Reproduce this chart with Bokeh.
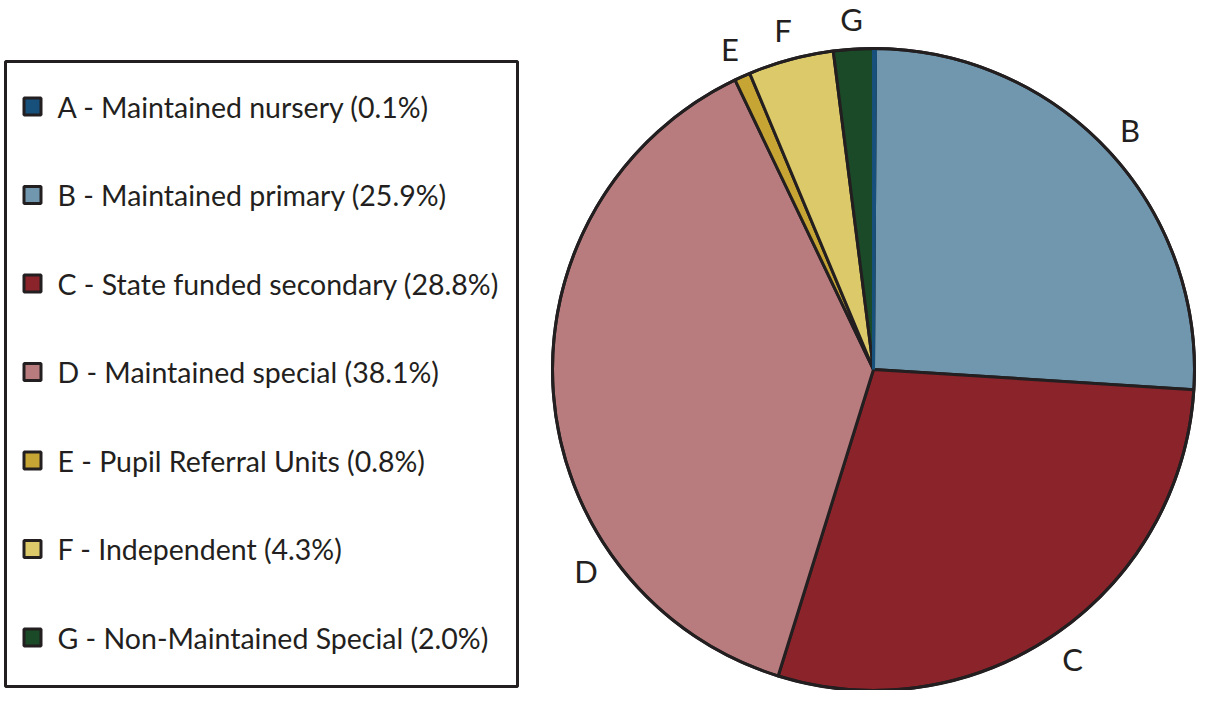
import math
from bokeh.plotting import figure
from bokeh.models import Range1d, ColumnDataSource
from bokeh.core.properties import value
from bokeh.embed import file_html
from bokeh.resources import INLINE

letters = ["A", "B", "C", "D", "E", "F", "G"]
names = ["Maintained nursery", "Maintained primary", "State funded secondary",
         "Maintained special", "Pupil Referral Units", "Independent",
         "Non-Maintained Special"]
shares = [0.1, 25.9, 28.8, 38.1, 0.8, 4.3, 2.0]
colors = ["#17507A", "#7097AE", "#8B232B", "#B87C7E", "#C6A535", "#DCC96A", "#1A4A27"]

INK = "#231F20"
FONT = "Lato"
W, H = 1196, 690


def px(X):
    return X


def py(Y):
    return H - Y


p = figure(width=W, height=H, output_backend="svg", toolbar_location=None,
           x_range=Range1d(0, W), y_range=Range1d(0, H), min_border=0,
           outline_line_color=None, background_fill_color="white")
p.axis.visible = False
p.grid.visible = False

# ---- pie ----
cx, cy, r = px(873), py(369), 321
total = sum(shares)
cum = [0.0]
for s in shares:
    cum.append(cum[-1] + s / total)
starts = [math.pi / 2 - 2 * math.pi * cum[i + 1] for i in range(len(shares))]
ends = [math.pi / 2 - 2 * math.pi * cum[i] for i in range(len(shares))]

src = ColumnDataSource(dict(x=[cx] * len(shares), y=[cy] * len(shares),
                            s=starts, e=ends, c=colors))
p.wedge(x="x", y="y", radius=r, start_angle="s", end_angle="e", fill_color="c",
        line_color=INK, line_width=3, source=src)
# tiny slice A drawn as its own colour
p.wedge(x=[cx], y=[cy], radius=r, start_angle=[starts[0]], end_angle=[ends[0]],
        fill_color=colors[0], line_color=colors[0], line_width=3, line_join="miter")
p.circle(x=[cx], y=[cy], radius=r, fill_color=None, line_color=INK, line_width=3)

# pie letters
label_angle_override = {"D": 235.0}
lx, ly, lt = [], [], []
for i, l in enumerate(letters):
    if l == "A":
        continue
    mid_deg = 360.0 * (cum[i] + cum[i + 1]) / 2
    a = math.radians(label_angle_override.get(l, mid_deg))
    rr = r + 30
    lx.append(cx + rr * math.sin(a))
    ly.append(cy + rr * math.cos(a))
    lt.append(l)
p.text(x=lx, y=ly, text=lt, text_align="center", text_baseline="middle",
       text_font=value(FONT), text_font_size="31px", text_color=INK)

# ---- legend ----
p.quad(left=[px(5)], right=[px(517)], top=[py(61)], bottom=[py(686)],
       fill_color=None, line_color=INK, line_width=3)
row_y = [py(106 + i * 88.5) for i in range(len(letters))]
p.rect(x=[px(32)] * len(letters), y=row_y, width=17, height=17,
       fill_color=colors, line_color=INK, line_width=3)
leg_text = [f"{l} - {n} ({s:.1f}%)" for l, n, s in zip(letters, names, shares)]
p.text(x=[px(57)] * len(letters), y=row_y, text=leg_text, text_align="left",
       text_baseline="middle", text_font=value(FONT), text_font_size="28.5px",
       text_color=INK)

open("out.html", "w").write(file_html(p, INLINE))
